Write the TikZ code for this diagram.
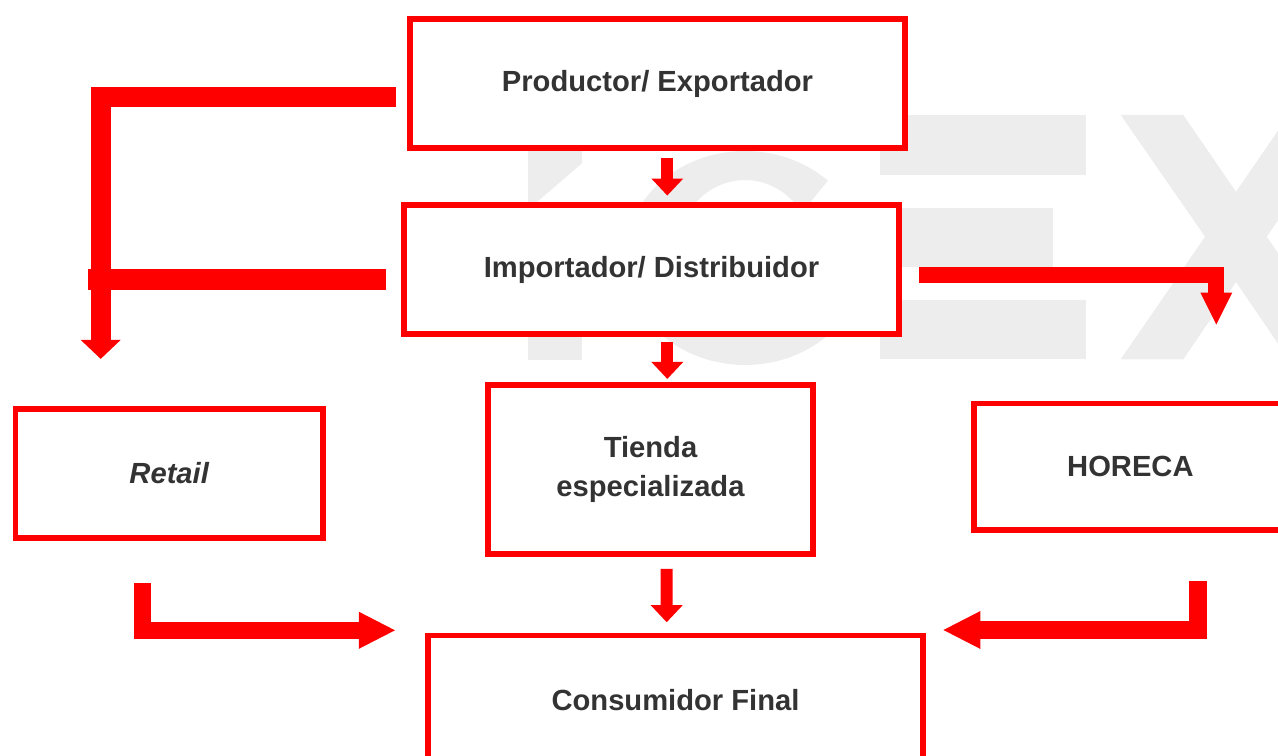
\documentclass[tikz,border=0pt]{standalone}
\usepackage{fontspec}
\setmainfont{Liberation Sans}
\usetikzlibrary{arrows.meta,calc}
\definecolor{boxred}{HTML}{FF0000}
\definecolor{txtgray}{HTML}{333333}
\definecolor{wmgray}{HTML}{EDEDED}
\tikzset{
  canal/.style={draw=boxred, line width=0.112cm, fill=white, inner sep=0pt,
    align=center, text=txtgray, font=\fontsize{16.6}{22.7}\selectfont\bfseries},
  flecha/.style n args={3}{boxred, line width=#1,
    -{Triangle[length=#2, width=#3, line width=0pt]}}
}

\begin{document}
\begin{tikzpicture}[x=0.02cm, y=-0.02cm]
  \useasboundingbox (0,0) rectangle (1278,756);
  % Watermark letters behind the boxes
  \fill[wmgray] (528,140) -- (582,140) -- (582,163.3) -- (528,209.7) -- cycle;
  \fill[wmgray] (528,250) rectangle (582,360);
  \begin{scope}
    \clip (600,100) -- (894,100) -- (764.6,258) -- (900,380) -- (600,380) -- cycle;
    \fill[wmgray, even odd rule] (745,258) ellipse [x radius=2.4cm, y radius=2.14cm]
      (745,258) ellipse [x radius=1.4cm, y radius=1.56cm];
  \end{scope}
  \fill[wmgray] (880,115) rectangle (1086,175);
  \fill[wmgray] (880,208) rectangle (1053,267);
  \fill[wmgray] (880,300) rectangle (1086,359);
  \fill[wmgray] (1120.7,115) -- (1183.3,115) -- (1236,191.7) -- (1288.7,115)
    -- (1351.3,115) -- (1266.7,236.7) -- (1351.3,359.3) -- (1288.7,359.3)
    -- (1236,282) -- (1183.3,359.3) -- (1120.7,359.3) -- (1205,236.7) -- cycle;

  % Channel boxes
  \node[canal, minimum width=9.9cm, minimum height=2.58cm] (prod) at (657.5,83.5) {Productor/ Exportador};
  \node[canal, minimum width=9.9cm, minimum height=2.58cm] (imp) at (651.5,269.5) {Importador/ Distribuidor};
  \node[canal, minimum width=6.15cm, minimum height=2.58cm] (retail) at (169.2,473.5) {\itshape Retail};
  \node[canal, minimum width=6.5cm, minimum height=3.38cm] (tienda) at (650.5,469.5) {Tienda\\especializada};
  \node[canal, minimum width=6.26cm, minimum height=2.54cm] (horeca) at (1130.4,466.8) {HORECA};
  \node[canal, minimum width=9.9cm, minimum height=2.58cm] (cons) at (675.5,700) {Consumidor Final};

  % Straight arrows down the middle
  \draw[flecha={0.24cm}{0.34cm}{0.64cm}] ($(prod.south)+(9.8,7)$) -- ($(imp.north)+(15.8,-6.7)$);
  \draw[flecha={0.24cm}{0.34cm}{0.64cm}] ($(imp.south)+(15.8,5.3)$) -- ($(tienda.north)+(16.8,-3.3)$);
  \draw[flecha={0.24cm}{0.34cm}{0.64cm}] ($(tienda.south)+(16.2,12)$) -- ($(cons.north)+(-8.8,-10.5)$);
  % Bent arrows to Retail and HORECA
  \draw[flecha={0.4cm}{0.38cm}{0.8cm}] ($(prod.west)+(-11,13.5)$) -| ($(retail.north)+(-68.5,-47.3)$);
  \draw[boxred, line width=0.42cm] ($(imp.west)+(-15,10.5)$) -- ($(imp.west)+(-313,10.5)$);
  \draw[flecha={0.32cm}{0.64cm}{0.64cm}] ($(imp.east)+(17.7,5.8)$) -| ($(horeca.north)+(85.9,-76)$);
  % Bent arrows to the final consumer
  \draw[flecha={0.345cm}{0.72cm}{0.74cm}] ($(retail.south)+(-26.5,42.7)$) |- ($(cons.west)+(-30.3,-69.7)$);
  \draw[flecha={0.35cm}{0.74cm}{0.76cm}] ($(horeca.south)+(67.6,48)$) |- ($(cons.east)+(17.7,-70)$);
\end{tikzpicture}
\end{document}
